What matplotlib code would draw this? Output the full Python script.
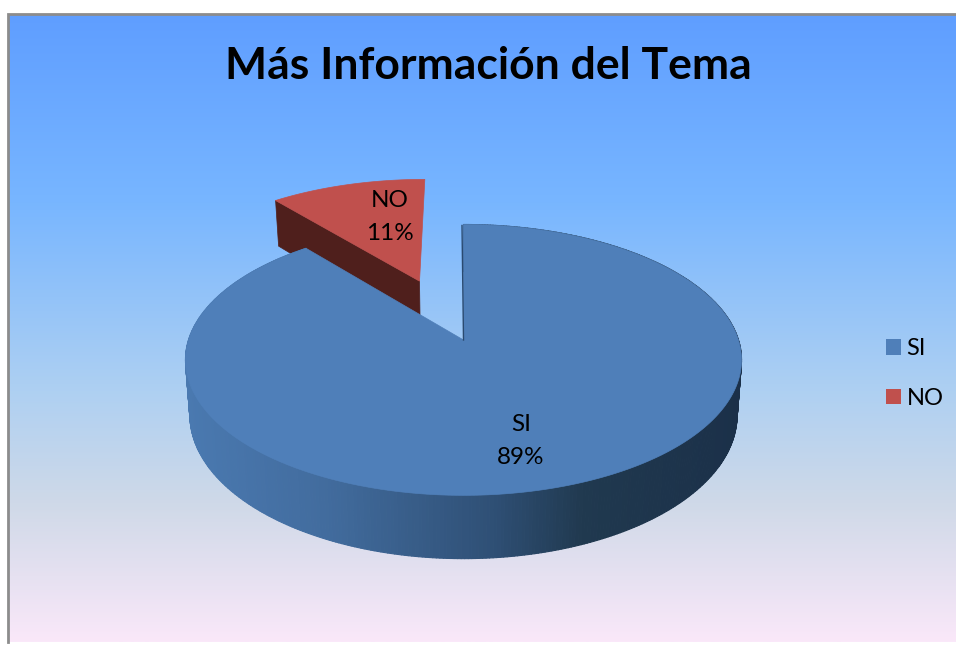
import numpy as np
import matplotlib
matplotlib.use("Agg")
import matplotlib.pyplot as plt
from matplotlib.collections import PolyCollection
from matplotlib.colors import LinearSegmentedColormap
from matplotlib.patches import Patch, Polygon

categories = ["SI", "NO"]
values = [89, 11]
title = "Más Información del Tema"

plt.rcParams["font.family"] = ["Lato", "DejaVu Sans"]

# pie geometry, in pixels of the picture
APEX_X, APEX_Y = 463.5, 340
RX, RY = 275, 132.5
PERSP = 0.147
DEPTH = 54
EXPLODE = 0.505

BLUE = "#4f7fb9"
RED = "#c0504d"
DARK_RED = "#4f1f1c"


def project(u, v, drop=0.0):
    # unit disc to screen, the far side shrinks a bit
    s = 1 / (1 + PERSP * v)
    shrink = 1 - 0.016 * (drop > 0)
    return APEX_X + RX * u * s * shrink, APEX_Y + (-RY * v + drop) * s


def rim(a0, a1, n=200):
    t = np.radians(np.linspace(a0, a1, n))
    return np.sin(t), np.cos(t)


fig = plt.figure(figsize=(9.56, 6.45), dpi=100)
ax = fig.add_axes([0, 0, 1, 1])
ax.set_xlim(0, 956)
ax.set_ylim(645, 0)
ax.axis("off")

# background
bg = LinearSegmentedColormap.from_list("bg", [
    (0.0, "#5f9eff"), (0.30, "#78b6ff"), (0.60, "#aed0f2"),
    (0.78, "#cfd9e8"), (1.0, "#fae8f9")])
grad = np.linspace(0, 1, 256).reshape(-1, 1)
ax.imshow(grad, cmap=bg, extent=(9, 956, 642, 14), aspect="auto", zorder=0)
ax.set_xlim(0, 956)
ax.set_ylim(645, 0)
ax.plot([8.5, 8.5, 956], [642, 13.5, 13.5], color="#8c8c8c", lw=2, zorder=1,
        solid_joinstyle="miter")

sweep = np.array(values) / sum(values) * 360
a_si = sweep[0]

# exploded NO slice
mid = np.radians(a_si + sweep[1] / 2)
du, dv = EXPLODE * np.sin(mid), EXPLODE * np.cos(mid)
u, v = rim(a_si, 360)
u, v = u + du, v + dv
xt, yt = project(np.r_[du, u], np.r_[dv, v])
xb, yb = project(np.r_[du, u], np.r_[dv, v], DEPTH)
ax.add_patch(Polygon(np.c_[[xt[0], xt[1], xb[1], xb[0]], [yt[0], yt[1], yb[1], yb[0]]],
                     fc=DARK_RED, ec=DARK_RED, lw=0.5, zorder=2))
ax.add_patch(Polygon(np.c_[xt, yt], fc=RED, ec=RED, lw=0.5, zorder=3))

# side wall of SI, shaded left to right
u, v = rim(0, a_si, 500)
xt, yt = project(u, v)
xb, yb = project(u, v, DEPTH)
quads = [[(xt[i], yt[i]), (xt[i + 1], yt[i + 1]), (xb[i + 1], yb[i + 1]), (xb[i], yb[i])]
         for i in range(len(u) - 1)]
wall = LinearSegmentedColormap.from_list("wall", [
    (0.0, "#4a79b0"), (0.25, "#426c9e"), (0.55, "#2f5076"),
    (0.72, "#20394f"), (1.0, "#1b3049")])
shade = wall((xt[:-1] - 185) / (743 - 185))
ax.add_collection(PolyCollection(quads, facecolors=shade, edgecolors=shade, lw=0.8, zorder=4))

# top of SI
xs, ys = project(np.r_[0, u], np.r_[0, v])
ax.add_patch(Polygon(np.c_[xs, ys], fc=BLUE, ec=BLUE, lw=0.5, zorder=5))
ax.plot([xs[1] - 1.5, xs[0]], [ys[1] + 1, ys[0]], color="#2a4a70", lw=1, zorder=6)

# labels
ax.text(521, 441, f"{categories[0]}\n{values[0]}%", ha="center", va="center",
        fontsize=17.5, linespacing=1.72, zorder=7)
ax.text(390, 217, f"{categories[1]}\n{values[1]}%", ha="center", va="center",
        fontsize=17.5, linespacing=1.72, zorder=7)

ax.text(488.5, 66, title, ha="center", va="center", fontsize=32, fontweight="bold", zorder=7)

handles = [Patch(fc=BLUE, ec="none"), Patch(fc=RED, ec="none")]
ax.legend(handles, categories, loc="center left", bbox_to_anchor=(879 / 956, 1 - 373.5 / 645),
          frameon=False, fontsize=17, handlelength=0.64, handleheight=0.64,
          handletextpad=0.22, labelspacing=1.2, borderpad=0.3, borderaxespad=0)

fig.savefig("out.png", dpi=100, facecolor="white")
